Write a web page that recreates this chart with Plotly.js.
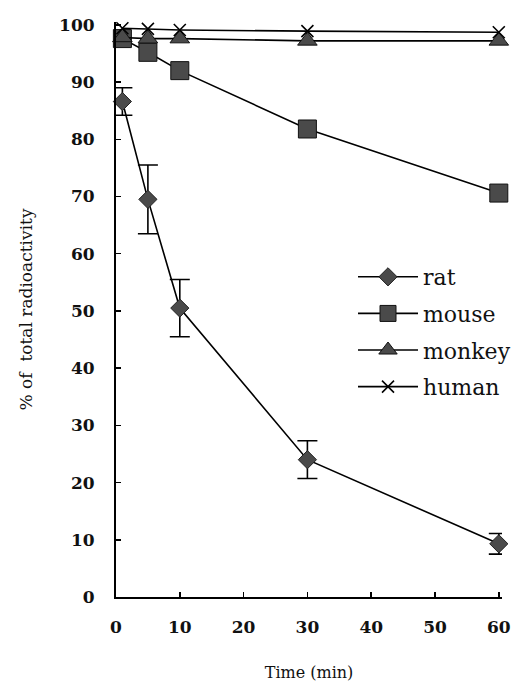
<!DOCTYPE html>
<html>
<head>
<meta charset="utf-8">
<script src="https://cdn.plot.ly/plotly-3.0.1.min.js"></script>
<style>html,body{margin:0;padding:0;background:#fff;}#chart{width:528px;height:684px;}</style>
</head>
<body>
<div id="chart"></div>
<script>
const timeMin = [1, 5, 10, 30, 60];
const rat = [86.6, 69.5, 50.5, 24.0, 9.3];
const ratErr = [2.4, 6.0, 5.0, 3.3, 1.8];
const mouse = [97.6, 95.2, 92.0, 81.8, 70.6];
const monkey = [97.8, 97.6, 97.6, 97.2, 97.2];
const human = [99.4, 99.3, 99.1, 98.9, 98.7];
const xTicks = [0, 10, 20, 30, 40, 50, 60];
const yTicks = [0, 10, 20, 30, 40, 50, 60, 70, 80, 90, 100];

const serif = "'DejaVu Serif', serif";
const fill = "#4a4a4a";

const traces = [
  {x: timeMin, y: rat, name: "rat", legendgroup: "a", mode: "lines+markers",
   line: {color: "#000", width: 1.6},
   marker: {symbol: "diamond", size: 14, color: fill, line: {color: "#222", width: 1}},
   error_y: {type: "data", array: ratErr, visible: true, color: "#000", thickness: 1.6, width: 10},
   cliponaxis: false},
  {x: timeMin, y: mouse, name: "mouse", legendgroup: "b", mode: "lines+markers",
   line: {color: "#000", width: 1.6},
   marker: {symbol: "square", size: 18, color: fill, line: {color: "#111", width: 1}},
   cliponaxis: false},
  {x: timeMin, y: monkey, name: "monkey", legendgroup: "c", mode: "lines+markers",
   line: {color: "#000", width: 1.6},
   marker: {symbol: "triangle-up", size: 17, color: fill, line: {color: "#111", width: 1}},
   cliponaxis: false},
  {x: timeMin, y: human, name: "human", legendgroup: "d", mode: "lines+markers",
   line: {color: "#000", width: 1.6},
   marker: {symbol: "x-thin", size: 12, color: "#000", line: {color: "#000", width: 1.6}},
   cliponaxis: false}
];

const layout = {
  width: 528, height: 684,
  margin: {l: 116, r: 26, t: 22, b: 87},
  paper_bgcolor: "#fff", plot_bgcolor: "#fff",
  font: {family: serif, color: "#111", size: 17},
  showlegend: true,
  legend: {x: 0.614, y: 0.593, xanchor: "left", yanchor: "top",
           font: {family: serif, size: 22, color: "#111"}, itemwidth: 60,
           bgcolor: "rgba(0,0,0,0)", traceorder: "grouped", tracegroupgap: 5},
  xaxis: {range: [0, 60.5], tickvals: xTicks, ticktext: xTicks.map(String),
          ticks: "inside", ticklen: 5, tickwidth: 1.5, tickcolor: "#000",
          showline: true, linecolor: "#000", linewidth: 2, showgrid: false, zeroline: false,
          ticklabelstandoff: 14, tickfont: {family: serif, size: 17, color: "#111", weight: "bold"},
          title: {text: "Time (min)", font: {family: serif, size: 16, color: "#111"}, standoff: 30}},
  yaxis: {range: [0, 100.5], tickvals: yTicks, ticktext: yTicks.map(String),
          ticks: "inside", ticklen: 5, tickwidth: 1.5, tickcolor: "#000",
          showline: true, linecolor: "#000", linewidth: 2, showgrid: false, zeroline: false,
          ticklabelstandoff: 16, tickfont: {family: serif, size: 17, color: "#111", weight: "bold"},
          title: {text: "% of  total radioactivity", font: {family: serif, size: 17, color: "#111"}, standoff: 22}}
};

Plotly.newPlot("chart", traces, layout, {displayModeBar: false, staticPlot: true});
</script>
</body>
</html>
